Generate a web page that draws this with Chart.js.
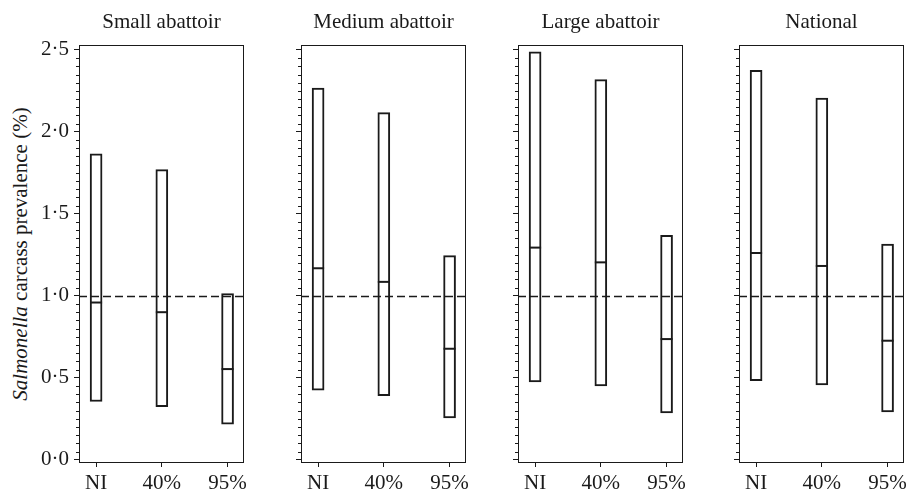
<!DOCTYPE html>
<html>
<head>
<meta charset="utf-8">
<script src="https://cdn.jsdelivr.net/npm/chart.js@4"></script>
<style>
  html, body { margin: 0; padding: 0; background: #fff; overflow: hidden; }
  #wrap { position: relative; width: 906px; height: 489px; }
  canvas { position: absolute; top: 0; }
  #ytitle {
    position: absolute; left: 20px; top: 254px;
    transform: translate(-50%, -50%) rotate(-90deg);
    white-space: nowrap; font: 21px 'Liberation Serif', serif; line-height: 1;
    color: #1a1a1a;
  }
</style>
</head>
<body>
<div id="wrap">
  <div id="ytitle"><i>Salmonella</i> carcass prevalence (%)</div>
</div>
<script>
const panelTitles = ['Small abattoir', 'Medium abattoir', 'Large abattoir', 'National'];
const scenarios = ['NI', '40%', '95%'];
const scenarioPos = [1, 2, 3];

// [panel][scenario]
const lowerBound = [
  [0.355, 0.324, 0.217],
  [0.424, 0.391, 0.255],
  [0.474, 0.450, 0.286],
  [0.482, 0.456, 0.292]
];
const medianValue = [
  [0.959, 0.900, 0.553],
  [1.168, 1.085, 0.677],
  [1.294, 1.204, 0.736],
  [1.261, 1.182, 0.726]
];
const upperBound = [
  [1.866, 1.770, 1.014],
  [2.267, 2.117, 1.245],
  [2.488, 2.319, 1.369],
  [2.376, 2.206, 1.316]
];

const yTickValues = [0, 0.5, 1, 1.5, 2, 2.5];
const yTickLabels = ['0·0', '0·5', '1·0', '1·5', '2·0', '2·5'];
const refValue = 1.0;

const ink = '#1a1a1a';
const serif = 'Liberation Serif';

// layout of the four panels
const areaLeft = [79, 301, 518, 739];
const areaW = 165;
const canvasH = 489;

// frame round the plot area
const framePlugin = {
  id: 'frame',
  afterDraw(chart) {
    const a = chart.chartArea, ctx = chart.ctx;
    ctx.save();
    ctx.strokeStyle = ink;
    ctx.lineWidth = 1;
    ctx.strokeRect(Math.round(a.left) + 0.5, Math.round(a.top) + 0.5,
      Math.round(a.right - a.left) - 1, Math.round(a.bottom - a.top) - 1);
    ctx.restore();
  }
};

// dashed reference line
const refPlugin = {
  id: 'refLine',
  afterDatasetsDraw(chart) {
    const a = chart.chartArea, ctx = chart.ctx;
    const y = Math.round(chart.scales.y.getPixelForValue(refValue)) + 0.5;
    ctx.save();
    ctx.strokeStyle = ink;
    ctx.lineWidth = 1.3;
    ctx.setLineDash([8, 4]);
    ctx.beginPath();
    ctx.moveTo(a.left, y);
    ctx.lineTo(a.right, y);
    ctx.stroke();
    ctx.restore();
  }
};

// minor ticks every 0.05
const minorPlugin = {
  id: 'minorTicks',
  afterDraw(chart) {
    const s = chart.scales.y, ctx = chart.ctx;
    const x = Math.round(chart.chartArea.left);
    ctx.save();
    ctx.strokeStyle = ink;
    ctx.lineWidth = 1;
    ctx.beginPath();
    for (let k = 1; k < 50; k++) {
      if (k % 10 === 0) continue;
      const y = Math.round(s.getPixelForValue(k * 0.05)) + 0.5;
      ctx.moveTo(x - 3, y);
      ctx.lineTo(x, y);
    }
    ctx.stroke();
    ctx.restore();
  }
};

const wrap = document.getElementById('wrap');

panelTitles.forEach((title, p) => {
  const axisW = p === 0 ? 79 : 20;
  const padR = 10;
  const cv = document.createElement('canvas');
  cv.width = axisW + areaW + padR;
  cv.height = canvasH;
  cv.style.left = (areaLeft[p] - axisW) + 'px';
  wrap.appendChild(cv);

  new Chart(cv, {
    type: 'bar',
    data: {
      datasets: [
        {
          type: 'scatter',
          order: 0,
          data: scenarioPos.map((x, i) => ({ x: x, y: medianValue[p][i] })),
          pointStyle: 'line',
          pointRadius: 6,
          pointHoverRadius: 6,
          pointBorderWidth: 2,
          pointBorderColor: ink,
          pointBackgroundColor: ink
        },
        {
          type: 'bar',
          order: 1,
          data: scenarioPos.map((x, i) => ({ x: x, y: [lowerBound[p][i], upperBound[p][i]] })),
          backgroundColor: '#ffffff',
          borderColor: ink,
          borderWidth: 2,
          borderSkipped: false,
          barThickness: 12
        }
      ]
    },
    options: {
      responsive: false,
      animation: false,
      events: [],
      layout: { padding: { left: 0, right: padR, top: 0, bottom: 0 } },
      plugins: {
        legend: { display: false },
        tooltip: { enabled: false },
        title: {
          display: true,
          text: title,
          fullSize: false,
          color: ink,
          font: { family: serif, size: 21, weight: 'normal', lineHeight: 1.2 },
          padding: { top: 10, bottom: 9.8 }
        }
      },
      scales: {
        x: {
          type: 'linear',
          min: 0.74,
          max: 3.25,
          offset: false,
          afterBuildTicks: s => { s.ticks = scenarioPos.map(v => ({ value: v })); },
          afterFit: s => { s.height = 26; s.paddingLeft = 0; s.paddingRight = 0; },
          ticks: {
            callback: (v, i) => scenarios[i],
            color: ink,
            font: { family: serif, size: 21 },
            padding: 4,
            maxRotation: 0,
            autoSkip: false
          },
          grid: { offset: false, drawOnChartArea: false, drawTicks: true, tickLength: 4, tickColor: ink, tickWidth: 1 },
          border: { display: false }
        },
        y: {
          min: -0.02,
          max: 2.53,
          afterBuildTicks: s => { s.ticks = yTickValues.map(v => ({ value: v })); },
          afterFit: s => { s.width = axisW; s.paddingTop = 0; s.paddingBottom = 0; },
          ticks: {
            display: p === 0,
            callback: (v, i) => yTickLabels[i],
            color: ink,
            font: { family: serif, size: 21 },
            padding: 5,
            autoSkip: false
          },
          grid: { drawOnChartArea: false, drawTicks: true, tickLength: 5, tickColor: ink, tickWidth: 1 },
          border: { display: false }
        }
      }
    },
    plugins: [refPlugin, framePlugin, minorPlugin]
  });
});
</script>
</body>
</html>
